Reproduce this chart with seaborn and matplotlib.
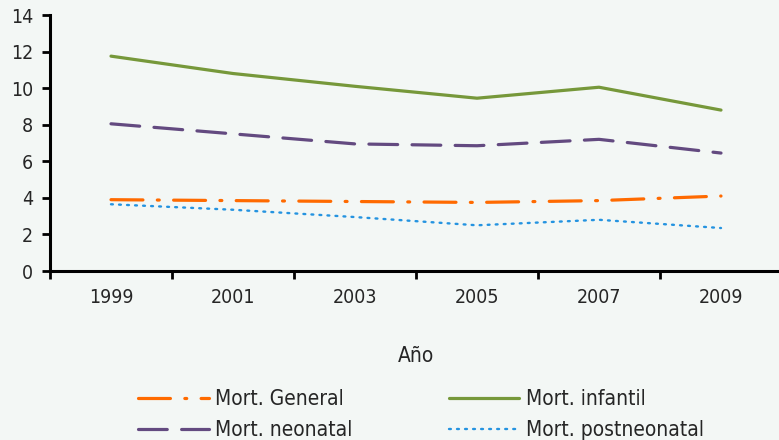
import matplotlib
matplotlib.use("Agg")
import matplotlib.pyplot as plt
import seaborn as sns

years = ["1999", "2001", "2003", "2005", "2007", "2009"]
mort_general = [3.9, 3.85, 3.8, 3.75, 3.85, 4.1]
mort_infantil = [11.75, 10.8, 10.1, 9.45, 10.05, 8.8]
mort_neonatal = [8.05, 7.5, 6.95, 6.85, 7.2, 6.45]
mort_postneonatal = [3.65, 3.35, 2.95, 2.5, 2.8, 2.35]

bg = "#f3f7f5"
sns.set_style("white")
plt.rcParams["font.family"] = ["DejaVu Sans"]
plt.rcParams["font.stretch"] = "condensed"

fig = plt.figure(figsize=(7.79, 4.40), dpi=100, facecolor=bg)
ax = fig.add_axes([50 / 779, 1 - 271 / 440, 732 / 779, 256 / 440])
ax.set_facecolor(bg)

# series: (values, label, colour, width, dash pattern)
series = [
    (mort_general, "Mort. General", "#ff6a00", 2.3, (0, (10, 4.5, 0.6, 4.5))),
    (mort_neonatal, "Mort. neonatal", "#634a80", 2.3, (0, (9, 4.5))),
    (mort_infantil, "Mort. infantil", "#76983a", 2.3, None),
    (mort_postneonatal, "Mort. postneonatal", "#2493e0", 1.7, (0, (0.8, 2.6))),
]
for vals, label, col, lw, dash in series:
    sns.lineplot(x=years, y=vals, ax=ax, color=col, lw=lw, label=label,
                 linestyle="-" if dash is None else dash)
    ax.lines[-1].set_solid_capstyle("round")
    ax.lines[-1].set_dash_capstyle("round")

ax.set_xlim(-0.5, 5.5)
ax.set_ylim(0, 14)
ax.set_yticks(range(0, 15, 2))
ax.set_xticks([i - 0.5 for i in range(6)], minor=False)
ax.set_xticklabels([])
ax.set_xticks(range(6), minor=True)
ax.set_xticklabels(years, minor=True)
ax.tick_params(axis="x", which="major", bottom=True, direction="out", length=6, width=2, color="black")
ax.tick_params(axis="x", which="minor", bottom=True, length=0, pad=12, labelsize=14)
ax.tick_params(axis="y", left=True, direction="out", length=6, width=2, color="black", labelsize=14, pad=6)

for side in ["top", "right"]:
    ax.spines[side].set_visible(False)
for side in ["left", "bottom"]:
    ax.spines[side].set_linewidth(2.2)
    ax.spines[side].set_color("black")

ax.set_xlabel("Año", fontsize=15, labelpad=28)
ax.set_ylabel("")

leg = ax.legend(loc="upper left", bbox_to_anchor=(80 / 732, -0.43), ncol=2,
                frameon=False, fontsize=15, handlelength=3.4, handletextpad=0.3,
                columnspacing=4.6, labelspacing=0.5, borderaxespad=0)

fig.savefig("out.png", dpi=100, facecolor=bg)
